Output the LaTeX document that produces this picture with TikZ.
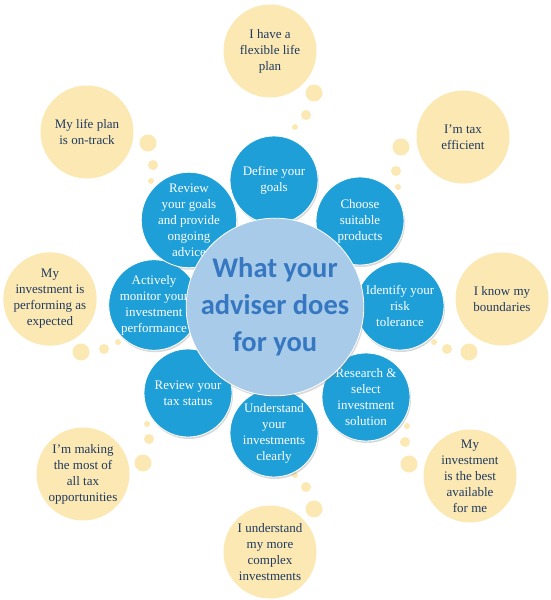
\documentclass[tikz,border=0pt]{standalone}
\usepackage{xcolor}
\usepackage{fontspec}
\setmainfont{Liberation Serif}
\newfontfamily\hubfont{Carlito}
\usepackage{tikz}
\usetikzlibrary{shadows}

\definecolor{goalfill}{HTML}{FCE8B2}
\definecolor{goaltext}{HTML}{1F3A60}
\definecolor{taskfill}{HTML}{1F9FD7}
\definecolor{hubfill}{HTML}{A9CBEA}
\definecolor{hubtext}{HTML}{3577C0}

\begin{document}
\begin{tikzpicture}[
    x=1pt, y=-1pt,
    goal/.style={circle, fill=goalfill, minimum size=93pt, inner sep=0pt, align=center,
        text=goaltext, font=\fontsize{13}{16}\selectfont},
    task/.style={circle, fill=taskfill, draw=white, line width=0.8pt, minimum size=88pt,
        inner sep=0pt, align=center, text=white, font=\fontsize{13}{16}\selectfont,
        drop shadow={shadow xshift=1pt, shadow yshift=-2pt, opacity=0.3}},
    hub/.style={circle, fill=hubfill, draw=white, line width=0.8pt, minimum size=170pt,
        inner sep=0pt, align=center, text=hubtext,
        font=\hubfont\bfseries\fontsize{28.5}{37}\selectfont,
        drop shadow={shadow xshift=1pt, shadow yshift=-2pt, opacity=0.3}},
    puff/.style={fill=goalfill}
]
\useasboundingbox (0,0) rectangle (551,600);

% Outcomes (thought bubbles)
\node[goal] (flexible) at (270, 51) {I have a\\flexible life\\plan};
\node[goal] (ontrack) at (87, 132) {My life plan\\is on-track};
\node[goal] (taxeff) at (463, 137) {I'm tax\\efficient};
\node[goal] (performing) at (50, 299) {My\\investment is\\performing as\\expected};
\node[goal] (boundaries) at (502, 299) {I know my\\boundaries};
\node[goal] (mostof) at (83, 474) {I'm making\\the most of\\all tax\\opportunities};
\node[goal] (bestfor) at (470, 476) {My\\investment\\is the best\\available\\for me};
\node[goal] (complex) at (270, 552) {I understand\\my more\\complex\\investments};

% Bubble trails
\fill[puff] (314, 93) circle (8.5); \fill[puff] (306, 115) circle (5); \fill[puff] (295, 127) circle (3);
\fill[puff] (148, 143) circle (8.5); \fill[puff] (153, 165) circle (5); \fill[puff] (151, 181) circle (3);
\fill[puff] (401, 147) circle (8.5); \fill[puff] (396, 171) circle (5); \fill[puff] (398, 187) circle (3);
\fill[puff] (81, 352) circle (8.5); \fill[puff] (104, 349) circle (5); \fill[puff] (118, 342) circle (3);
\fill[puff] (469, 352) circle (8.5); \fill[puff] (447, 349) circle (5); \fill[puff] (434, 342) circle (3);
\fill[puff] (143, 463) circle (8.5); \fill[puff] (149, 439) circle (5); \fill[puff] (147, 424) circle (3);
\fill[puff] (409, 464) circle (8.5); \fill[puff] (405, 442) circle (5); \fill[puff] (407, 426) circle (3);
\fill[puff] (314, 509) circle (8.5); \fill[puff] (306, 487) circle (5); \fill[puff] (295, 475) circle (3);

% Adviser tasks
\node[task] (define) at (274, 180) {Define your\\goals};
\node[task] (choose) at (360, 221) {Choose\\suitable\\products};
\node[task] (identify) at (400, 306) {Identify your\\risk\\tolerance};
\node[task] (research) at (366, 397) {Research \&\\select\\investment\\solution};
\node[task] (understand) at (274, 433) {Understand\\your\\investments\\clearly};
\node[task] (taxstatus) at (188, 393) {Review your\\tax status};
\node[task] (monitor) at (154, 305) {Actively\\monitor your\\investment\\performance};
\node[task] (review) at (189, 220) {Review\\your goals\\and provide\\ongoing\\advice};

% Centre
\node[hub] (adviser) at (275, 307) {What your\\adviser does\\for you};
\end{tikzpicture}
\end{document}
